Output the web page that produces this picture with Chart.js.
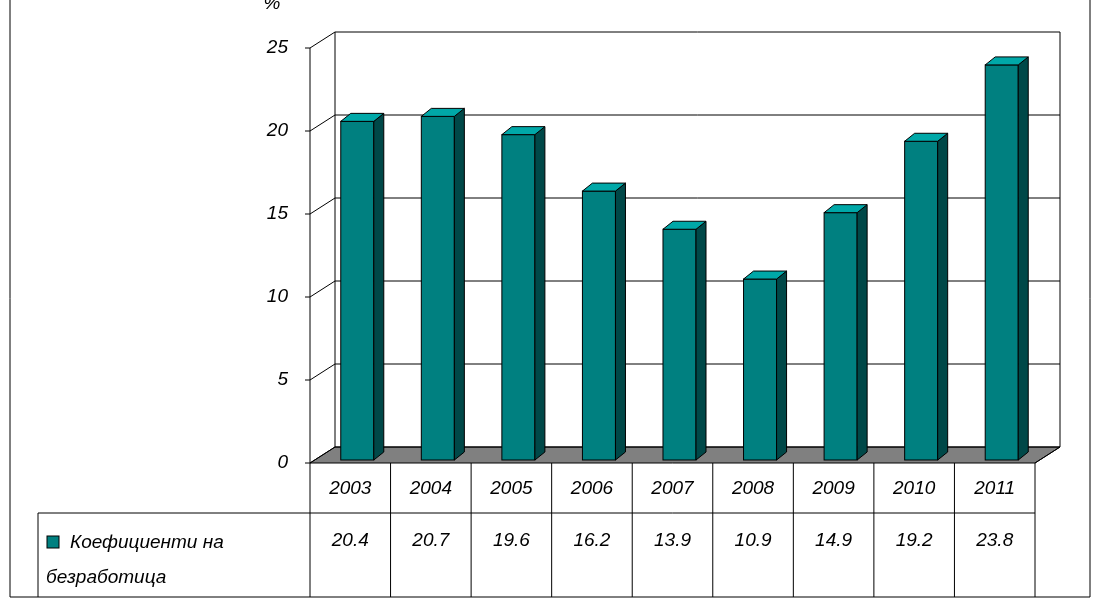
<!DOCTYPE html><html><head><meta charset="utf-8">
<script src="https://cdn.jsdelivr.net/npm/chart.js@4"></script>
<style>body{margin:0;background:#fff}#w{width:1100px;height:600px}</style></head><body><div id="w"><canvas id="c"></canvas></div>
<script>
const years=['2003','2004','2005','2006','2007','2008','2009','2010','2011'];
const rates=[20.4,20.7,19.6,16.2,13.9,10.9,14.9,19.2,23.8];
const seriesName=['Коефициенти на','безработица'];
const yTicks=[0,5,10,15,20,25];
const DX=25,DY=-16;
const font='italic 19px "Liberation Sans", Arial';
const plug={id:'p3d',
beforeDatasetsDraw(ch){const {ctx,chartArea:a,scales:{y}}=ch;ctx.save();
 ctx.fillStyle='#808080';ctx.strokeStyle='#000';ctx.lineWidth=1;
 ctx.beginPath();ctx.moveTo(a.left,a.bottom);ctx.lineTo(a.right,a.bottom);ctx.lineTo(a.right+DX,a.bottom+DY);ctx.lineTo(a.left+DX,a.bottom+DY);ctx.closePath();ctx.fill();ctx.stroke();
 yTicks.forEach(t=>{const py=y.getPixelForValue(t);ctx.beginPath();ctx.moveTo(a.left,py);ctx.lineTo(a.left+DX,py+DY);ctx.lineTo(a.right+DX,py+DY);ctx.stroke();
  ctx.beginPath();ctx.moveTo(a.left-5,py);ctx.lineTo(a.left,py);ctx.stroke();});
 const top=y.getPixelForValue(25);
 ctx.beginPath();ctx.moveTo(a.left+DX,top+DY);ctx.lineTo(a.left+DX,a.bottom+DY);ctx.moveTo(a.right+DX,top+DY);ctx.lineTo(a.right+DX,a.bottom+DY);ctx.moveTo(a.left,top);ctx.lineTo(a.left,a.bottom);ctx.stroke();
 ctx.restore();},
afterDatasetsDraw(ch){const {ctx,chartArea:a}=ch;const m=ch.getDatasetMeta(0);ctx.save();ctx.strokeStyle='#000';ctx.lineWidth=1;
 const dx=10,dy=-8;
 m.data.forEach(b=>{const l=b.x-b.width/2+7,r=b.x+b.width/2+7,t=b.y-3,bt=b.base-3;
  ctx.fillStyle='#008080';ctx.fillRect(l,t,r-l,bt-t);ctx.strokeRect(l,t,r-l,bt-t);
  ctx.fillStyle='#004848';ctx.beginPath();ctx.moveTo(r,t);ctx.lineTo(r+dx,t+dy);ctx.lineTo(r+dx,bt+dy);ctx.lineTo(r,bt);ctx.closePath();ctx.fill();ctx.stroke();
  ctx.fillStyle='#00a8a8';ctx.beginPath();ctx.moveTo(l,t);ctx.lineTo(l+dx,t+dy);ctx.lineTo(r+dx,t+dy);ctx.lineTo(r,t);ctx.closePath();ctx.fill();ctx.stroke();});
 const cw=(a.right-a.left)/years.length,r1=a.bottom,r2=513,r3=597,L=38;
 ctx.beginPath();ctx.moveTo(a.left,r1);ctx.lineTo(a.left,r3);ctx.moveTo(a.right,r1);ctx.lineTo(a.right,r3);
 ctx.moveTo(a.left,r2);ctx.lineTo(L,r2);ctx.lineTo(L,r3);ctx.moveTo(a.left,r2);ctx.lineTo(a.right,r2);
 for(let i=1;i<years.length;i++){ctx.moveTo(a.left+i*cw,r1);ctx.lineTo(a.left+i*cw,r3);}
 ctx.moveTo(a.right,r1);ctx.lineTo(a.right+DX,r1+DY);ctx.stroke();
 ctx.font=font;ctx.fillStyle='#000';ctx.textAlign='center';ctx.textBaseline='middle';
 years.forEach((yr,i)=>{ctx.fillText(yr,a.left+(i+.5)*cw,489);ctx.fillText(rates[i].toFixed(1),a.left+(i+.5)*cw,541);});
 ctx.textAlign='left';ctx.fillText(seriesName[0],70,543);ctx.fillText(seriesName[1],46,578);
 ctx.fillStyle='#008080';ctx.fillRect(47,536,12,12);ctx.strokeRect(47,536,12,12);
 ctx.fillStyle='#000';ctx.textAlign='center';ctx.fillText('%',272,4);
 ctx.beginPath();ctx.moveTo(1090,0);ctx.lineTo(1090,597);ctx.lineTo(10,597);ctx.lineTo(10,0);ctx.stroke();
 ctx.restore();}};
new Chart(document.getElementById('c'),{type:'bar',plugins:[plug],
data:{labels:years,datasets:[{data:rates,backgroundColor:'rgba(0,0,0,0)',categoryPercentage:1,barPercentage:0.41}]},
options:{responsive:true,maintainAspectRatio:false,animation:false,devicePixelRatio:1,
layout:{padding:{left:0,right:65,top:48,bottom:137}},
plugins:{legend:{display:false},tooltip:{enabled:false}},
scales:{x:{display:false,offset:true},
y:{min:0,max:25,afterFit(s){s.width=310;},ticks:{stepSize:5,padding:14,color:'#000',font:{family:'"Liberation Sans", Arial',size:19,style:'italic'}},grid:{display:false},border:{display:false}}}}});
</script></body></html>
